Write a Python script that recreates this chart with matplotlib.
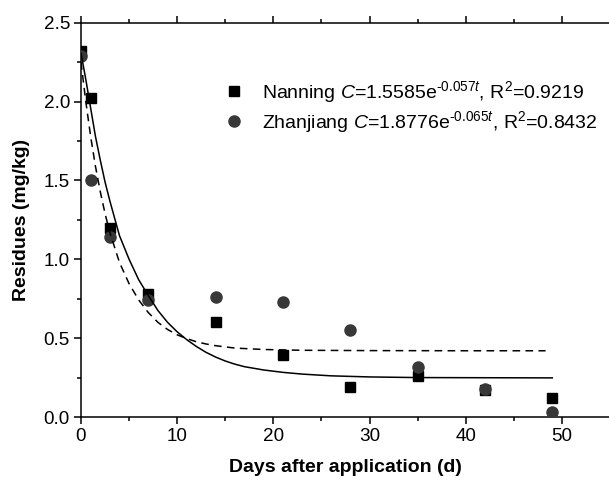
import matplotlib
matplotlib.use("Agg")
import matplotlib.pyplot as plt
from matplotlib.ticker import MultipleLocator, FormatStrFormatter

plt.rcParams['font.family'] = ['Liberation Sans', 'DejaVu Sans']
plt.rcParams['mathtext.fontset'] = 'custom'
plt.rcParams['mathtext.rm'] = 'Liberation Sans'
plt.rcParams['mathtext.it'] = 'Liberation Sans:italic'
plt.rcParams['mathtext.bf'] = 'Liberation Sans:bold'

# Observed residues
days = [0, 1, 3, 7, 14, 21, 28, 35, 42, 49]
nanning = [2.32, 2.02, 1.20, 0.78, 0.60, 0.39, 0.19, 0.26, 0.17, 0.12]
zhanjiang = [2.29, 1.50, 1.14, 0.74, 0.76, 0.73, 0.55, 0.32, 0.175, 0.03]

# Fitted curves
fit_n_t = [0, 0.5, 1, 1.5, 2, 2.5, 3, 4, 5, 6, 7, 8, 9, 10, 11, 12, 13, 14, 15, 16, 17,
           19, 21, 23, 26, 30, 35, 42, 49]
fit_n_y = [2.306, 2.14, 1.96, 1.78, 1.63, 1.49, 1.37, 1.15, 1.00, 0.87, 0.77, 0.675, 0.60,
           0.54, 0.49, 0.447, 0.41, 0.38, 0.355, 0.335, 0.319, 0.298, 0.283, 0.272, 0.261,
           0.254, 0.250, 0.249, 0.248]
fit_z_t = [0, 0.5, 1, 1.5, 2, 2.5, 3, 4, 5, 6, 7, 8, 9, 10, 11, 12, 13, 14, 16, 19, 23, 30,
           40, 48.3]
fit_z_y = [2.25, 2.00, 1.78, 1.59, 1.43, 1.29, 1.17, 0.98, 0.845, 0.742, 0.662, 0.600, 0.555,
           0.521, 0.497, 0.477, 0.463, 0.452, 0.437, 0.428, 0.423, 0.421, 0.420, 0.420]

label_n = "Nanning $C$=1.5585e$^{\u20100.057\\mathit{t}}$, R$^{2}$=0.9219"
label_z = "Zhanjiang $C$=1.8776e$^{\u20100.065\\mathit{t}}$, R$^{2}$=0.8432"

W, H = 609, 482
fig = plt.figure(figsize=(W / 100, H / 100), dpi=100)
ax = fig.add_axes([81 / W, 65 / H, (610 - 81) / W, (417 - 22.7) / H])

ax.plot(days, nanning, linestyle='none', marker='s', markersize=7.2,
        color='black', label=label_n, zorder=3)
ax.plot(days, zhanjiang, linestyle='none', marker='o', markersize=8,
        color='#383838', label=label_z, zorder=4)
ax.plot(fit_n_t, fit_n_y, color='black', linewidth=1.1, zorder=5)
ax.plot(fit_z_t, fit_z_y, color='black', linewidth=1.1, linestyle=(0, (5, 3.5)), zorder=5)

ax.set_xlim(0, 55)
ax.set_ylim(0, 2.5)
ax.xaxis.set_major_locator(MultipleLocator(10))
ax.xaxis.set_minor_locator(MultipleLocator(5))
ax.yaxis.set_major_locator(MultipleLocator(0.5))
ax.yaxis.set_minor_locator(MultipleLocator(0.25))
ax.yaxis.set_major_formatter(FormatStrFormatter('%.1f'))

for s in ax.spines.values():
    s.set_linewidth(1.1)
ax.tick_params(which='both', direction='out', top=True, right=False, width=1.1,
               labelsize=13.6, pad=3)
ax.tick_params(which='major', length=5)
ax.tick_params(which='minor', length=2.8)

ax.set_xlabel('Days after application (d)', fontsize=14, fontweight='bold', labelpad=10)
ax.set_ylabel('Residues (mg/kg)', fontsize=14, fontweight='bold', labelpad=10)

leg = ax.legend(loc='upper left', bbox_to_anchor=(224 / W, 1 - 79 / H),
                bbox_transform=fig.transFigure, frameon=False, fontsize=14,
                handlelength=1.0, handletextpad=0.95, labelspacing=0.22,
                borderpad=0, borderaxespad=0, numpoints=1)

fig.savefig('out.png', dpi=100)
